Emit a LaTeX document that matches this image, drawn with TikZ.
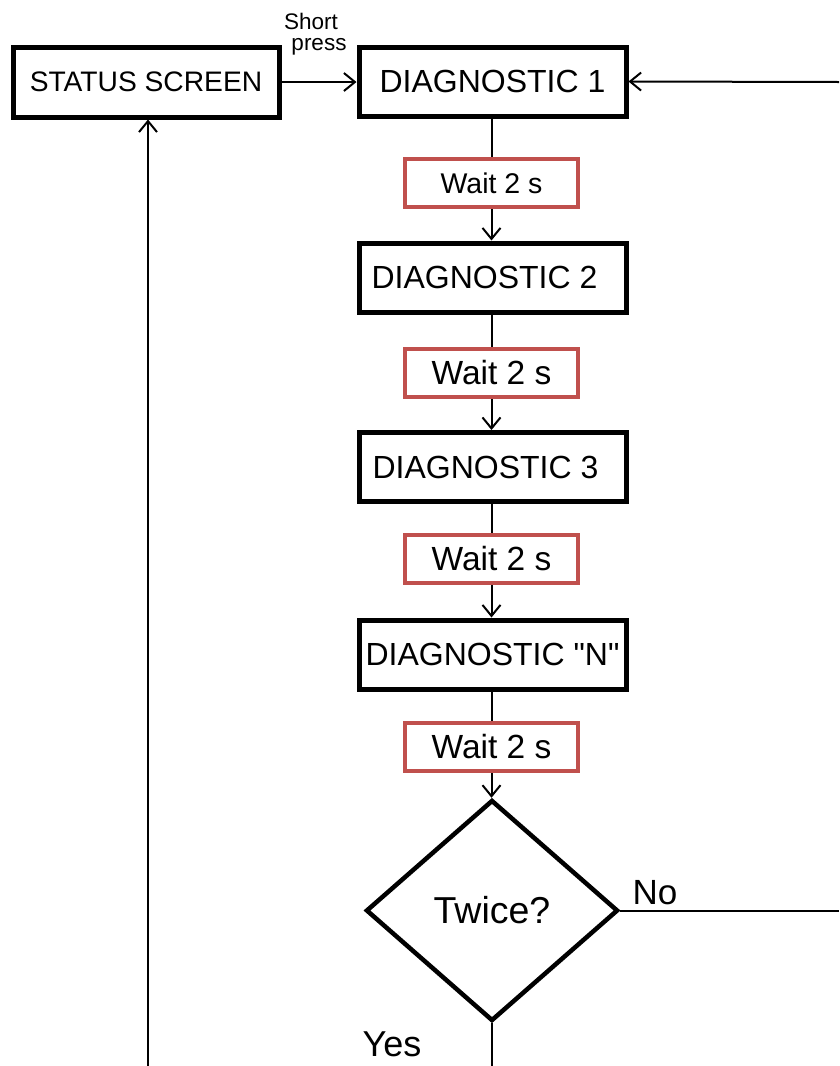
\documentclass[tikz,border=0pt]{standalone}
\usepackage{fontspec}
\setmainfont{Liberation Sans}[Ligatures=TeXOff]
\usetikzlibrary{shapes.geometric,arrows.meta}
\definecolor{waitred}{RGB}{192,80,77}
\begin{document}
\begin{tikzpicture}[x=1pt,y=-1pt,
  diagbox/.style={draw=black,line width=5pt,minimum width=267pt,minimum height=69pt,inner sep=0pt,font=\fontsize{32}{38}\selectfont},
  waitbox/.style={draw=waitred,line width=4.5pt,minimum width=173pt,minimum height=48pt,inner sep=0pt,font=\fontsize{33.5}{40}\selectfont},
  conn/.style={line width=2pt},
  arr/.style={conn,-{Straight Barb[length=11pt,width=18pt]}},
  lbl/.style={inner sep=0pt,font=\fontsize{36}{42}\selectfont},
  smalllbl/.style={inner sep=0pt,font=\fontsize{22.5}{26}\selectfont}]
\useasboundingbox[fill=white] (0,0) rectangle (839,1066);

\node[diagbox,minimum width=266pt,minimum height=70pt,font=\fontsize{28.2}{34}\selectfont] (status) at (146,82) {STATUS SCREEN};
\node[diagbox] (d1) at (492.5,81.5) {DIAGNOSTIC 1};
\node[waitbox,font=\fontsize{28.5}{34}\selectfont] (w1) at (491.5,183) {Wait 2 s};
\node[diagbox] (d2) at (492.5,277.5) {DIAGNOSTIC 2\hspace*{16pt}};
\node[waitbox] (w2) at (491.5,373) {Wait 2 s};
\node[diagbox] (d3) at (492.5,467) {DIAGNOSTIC 3\hspace*{14pt}};
\node[waitbox] (w3) at (491.5,559) {Wait 2 s};
\node[diagbox] (dn) at (492.5,654.5) {DIAGNOSTIC "N"};
\node[waitbox] (w4) at (491.5,747) {Wait 2 s};
\node[diamond,draw=black,line width=4.5pt,minimum width=252pt,minimum height=221pt,inner sep=0pt,aspect=1.14,font=\fontsize{37.5}{44}\selectfont] (dec) at (492,910.5) {Twice?};

\node[smalllbl] (short) at (311,21) {Short};
\node[smalllbl] (press) at (319,47) {press};
\node[lbl,font=\fontsize{35}{42}\selectfont] (no) at (655,893) {No};
\node[lbl] (yes) at (392,1044) {Yes};

\coordinate (rtop) at (839,82);
\coordinate (rno) at (839,912);
\coordinate (lbot) at (148,1066);
\coordinate (ybot) at (492,1066);

\draw[arr] (status.east) -- (status.east -| d1.west);
\draw[conn] (d1.south -| w1.north) -- (w1.north);
\draw[arr] (w1.south) -- (w1.south |- d2.north);
\draw[conn] (d2.south -| w2.north) -- (w2.north);
\draw[arr] (w2.south) -- (w2.south |- d3.north);
\draw[conn] (d3.south -| w3.north) -- (w3.north);
\draw[arr] (w3.south) -- (w3.south |- dn.north);
\draw[conn] (dn.south -| w4.north) -- (w4.north);
\draw[arr] (w4.south) -- (w4.south |- dec.north);
\draw[conn] (dec.east) -- (rno |- dec.east);
\draw[conn] (dec.south) -- (ybot);
\draw[arr] (lbot) -- (lbot |- status.south);
\draw[arr] (rtop) -- (d1.east);
\end{tikzpicture}
\end{document}
